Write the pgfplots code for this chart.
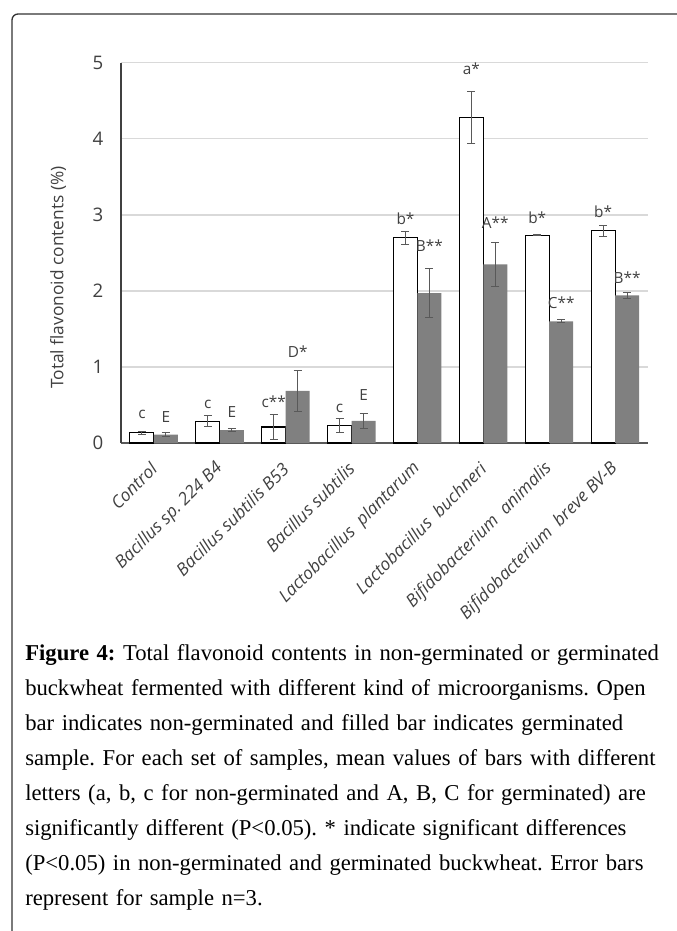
\documentclass[border=0pt]{standalone}
\usepackage{pgfplots}
\pgfplotsset{compat=1.18}
\usepackage{pgfplotstable}
\usepackage{fontspec}
\setmainfont{Liberation Serif}
\newfontfamily\chartfont{Open Sans}

\definecolor{gridc}{HTML}{D9D9D9}
\definecolor{fillc}{HTML}{808080}
\definecolor{errc}{HTML}{595959}
\definecolor{txtc}{HTML}{404040}
\definecolor{framec}{HTML}{333333}

\pgfplotstableread{
x y e
0 0.135 0.02
1 0.285 0.07
2 0.21 0.16
3 0.227 0.09
4 2.70 0.085
5 4.28 0.34
6 2.73 0.005
7 2.79 0.07
}\opendata
\pgfplotstableread{
x y e
0 0.11 0.03
1 0.17 0.02
2 0.686 0.27
3 0.29 0.10
4 1.97 0.32
5 2.35 0.29
6 1.60 0.02
7 1.94 0.04
}\filldata

\newcommand{\af}{\chartfont\fontsize{11.5}{13}\selectfont}

\begin{document}
\frenchspacing
\begin{tikzpicture}[x=1pt,y=1pt]
\useasboundingbox (0,0) rectangle (507.75,698.25);
\draw[framec, line width=1pt, rounded corners=4.5pt] (9,-2) -- (9,687.75) -- (512,687.75);
\begin{axis}[
  at={(90.75pt,366pt)}, anchor=south west,
  scale only axis, width=395.25pt, height=285.2pt,
  xmin=-0.5, xmax=7.5, ymin=0, ymax=5,
  axis x line*=bottom, axis y line*=left,
  x axis line style={-, line width=1pt, color=errc},
  y axis line style={-, line width=1pt, color=txtc},
  major tick length=0pt,
  ytick={0,1,2,3,4,5}, xtick={0,...,7},
  xticklabels={Control, Bacillus sp. 224 B4, Bacillus subtilis B53, Bacillus subtilis, Lactobacillus\ \ plantarum, Lactobacillus\ \ buchneri, Bifidobacterium\ \ animalis, Bifidobacterium\ \ breve BV-B},
  ymajorgrids, grid style={gridc, line width=1pt},
  ybar, bar width=18pt,
  clip=false,
  /pgf/number format/assume math mode=true,
  yticklabel style={anchor=east, inner sep=0pt, xshift=-13pt, font=\chartfont\fontsize{14}{16}\selectfont, text=txtc},
  xticklabel style={rotate=45, anchor=east, inner sep=0pt, font=\chartfont\itshape\fontsize{13}{15}\selectfont, text=txtc},
  xticklabel shift=17pt,
  ylabel={Total flavonoid contents (\%)},
  ylabel style={at={(axis description cs:-0.1195,0.435)}, anchor=center, font=\chartfont\fontsize{13}{15}\selectfont, text=txtc},
]
\addplot[ybar, bar shift=-9pt, fill=white, draw=black, line width=0.8pt,
  error bars/.cd, y dir=both, y explicit,
  error bar style={errc, line width=0.75pt},
  error mark options={rotate=90, mark size=3pt, errc, line width=0.75pt}]
  table[x=x, y=y, y error=e]{\opendata};
\addplot[ybar, bar shift=9pt, fill=fillc, draw=none,
  error bars/.cd, y dir=both, y explicit,
  error bar style={errc, line width=0.75pt},
  error mark options={rotate=90, mark size=3pt, errc, line width=0.75pt}]
  table[x=x, y=y, y error=e]{\filldata};
% significance letters
\node[font=\af, text=txtc, inner sep=0pt] at (axis cs:-0.182,0.37) {c};
\node[font=\af, text=txtc, inner sep=0pt] at (axis cs:0.182,0.345) {E};
\node[font=\af, text=txtc, inner sep=0pt] at (axis cs:0.818,0.51) {c};
\node[font=\af, text=txtc, inner sep=0pt] at (axis cs:1.182,0.41) {E};
\node[font=\af, text=txtc, inner sep=0pt] at (axis cs:1.818,0.54) {c**};
\node[font=\af, text=txtc, inner sep=0pt] at (axis cs:2.182,1.2) {D*};
\node[font=\af, text=txtc, inner sep=0pt] at (axis cs:2.818,0.455) {c};
\node[font=\af, text=txtc, inner sep=0pt] at (axis cs:3.182,0.63) {E};
\node[font=\af, text=txtc, inner sep=0pt] at (axis cs:3.818,2.95) {b*};
\node[font=\af, text=txtc, inner sep=0pt] at (axis cs:4.182,2.6) {B**};
\node[font=\af, text=txtc, inner sep=0pt] at (axis cs:4.818,4.92) {a*};
\node[font=\af, text=txtc, inner sep=0pt] at (axis cs:5.182,2.90) {A**};
\node[font=\af, text=txtc, inner sep=0pt] at (axis cs:5.818,2.96) {b*};
\node[font=\af, text=txtc, inner sep=0pt] at (axis cs:6.182,1.85) {C**};
\node[font=\af, text=txtc, inner sep=0pt] at (axis cs:6.818,3.04) {b*};
\node[font=\af, text=txtc, inner sep=0pt] at (axis cs:7.182,2.17) {B**};
\end{axis}
\node[anchor=north west, inner sep=0pt, text width=477.75pt, font=\fontsize{17}{26.25}\selectfont] at (18.75,215) {%
\makebox[\linewidth][s]{\textbf{Figure 4:} Total flavonoid contents in non-germinated or germinated}\\
\makebox[\linewidth][s]{buckwheat fermented with different kind of microorganisms. Open}\\
\makebox[\linewidth][s]{bar indicates non-germinated and filled bar indicates germinated}\\
\makebox[\linewidth][s]{sample. For each set of samples, mean values of bars with different}\\
\makebox[\linewidth][s]{letters (a, b, c for non-germinated and A, B, C for germinated) are}\\
\makebox[\linewidth][s]{significantly different (P<0.05). * indicate significant differences}\\
\makebox[\linewidth][s]{(P<0.05) in non-germinated and germinated buckwheat. Error bars}\\
represent for sample n=3.};
\end{tikzpicture}
\end{document}
